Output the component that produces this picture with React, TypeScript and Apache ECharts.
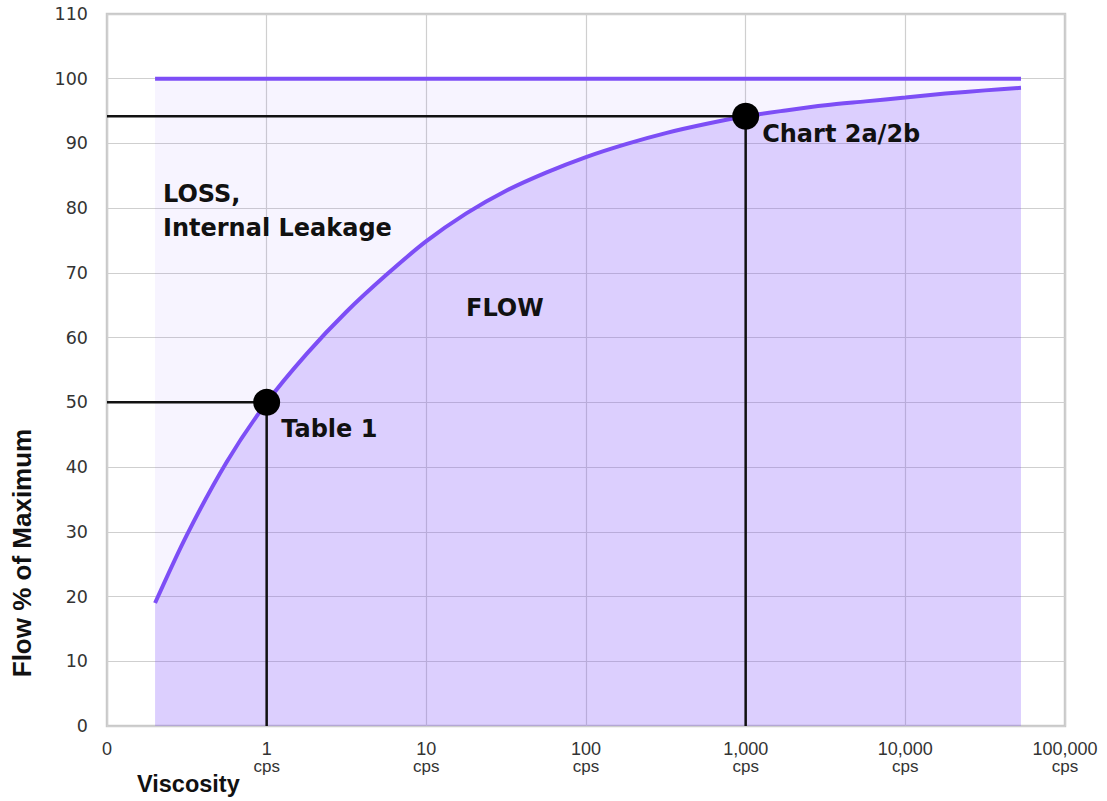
import React, { useEffect, useRef } from "react";
import * as echarts from "echarts";

// Viscosity (cps) vs flow % of maximum
const viscosity = [0.2, 0.316, 0.562, 1, 1.78, 3.16, 5.62, 10, 17.8, 31.6, 56.2, 100, 178, 316, 562, 1000, 1780, 3160, 5620, 10000, 17800, 31600, 53000];
const flowPct = [19.0, 29.5, 40.8, 50, 57.5, 64.0, 69.7, 74.9, 79.2, 82.7, 85.5, 87.9, 89.9, 91.6, 93.0, 94.2, 95.1, 95.9, 96.5, 97.1, 97.7, 98.2, 98.6];

// maximum (100 %) line spans the same viscosity range
const maxLineX = [0.2, 53000];
const maxLineY = [100, 100];

// reference points
const refNames = ["Table 1", "Chart 2a/2b"];
const refX = [1, 1000];
const refY = [50, 94.2];

// axes
const xMin = 0.1;
const xMax = 100000;
const yMin = 0;
const yMax = 110;
const yInterval = 10;

const PURPLE = "#7d4ef6";

export default function App() {
  const ref = useRef<HTMLDivElement>(null);

  useEffect(() => {
    if (!ref.current) return;
    const chart = echarts.init(ref.current, undefined, { renderer: "svg" });

    const flowData = viscosity.map((v, i) => [v, flowPct[i]]);
    const maxData = maxLineX.map((v, i) => [v, maxLineY[i]]);
    const labelPos = [
      [28, 40],
      [30, 31],
    ];

    const guideSeries = refX.map((x, i) => ({
      type: "line",
      name: "guide" + i,
      data: [
        [xMin, refY[i]],
        [x, refY[i]],
        [x, yMin],
      ],
      symbol: "none",
      lineStyle: { color: "#111", width: 2.5 },
      z: 5,
    }));

    const option: any = {
      animation: false,
      grid: {
        left: 107,
        right: 42,
        top: 14,
        bottom: 75,
        show: true,
        borderColor: "#c9c9c9",
        borderWidth: 2.5,
        backgroundColor: "transparent",
      },
      xAxis: {
        type: "log",
        logBase: 10,
        min: xMin,
        max: xMax,
        axisLine: { show: false },
        axisTick: { show: false },
        splitLine: { show: true, lineStyle: { color: "#cfcfcf", width: 1.2 } },
        axisLabel: {
          showMinLabel: true,
          showMaxLabel: true,
          margin: 13,
          formatter: (v: number) => {
            if (v < 0.5) return "{v|0}";
            return "{v|" + Math.round(v).toLocaleString("en-US") + "}\n{c|cps}";
          },
          rich: {
            v: { fontFamily: "Liberation Sans", fontSize: 18, color: "#333", lineHeight: 19 },
            c: { fontFamily: "Liberation Sans", fontSize: 17, color: "#333", lineHeight: 17 },
          },
        },
      },
      yAxis: {
        type: "value",
        min: yMin,
        max: yMax,
        interval: yInterval,
        axisLine: { show: false },
        axisTick: { show: false },
        splitLine: { show: true, lineStyle: { color: "#cfcfcf", width: 1.2 } },
        axisLabel: {
          margin: 19,
          fontFamily: "DejaVu Sans",
          fontSize: 17.5,
          color: "#333",
        },
      },
      series: [
        {
          type: "line",
          name: "max",
          data: maxData,
          symbol: "none",
          lineStyle: { color: PURPLE, width: 4 },
          areaStyle: { color: "rgba(130,80,250,0.09)", origin: "start" },
          z: 2,
        },
        {
          type: "line",
          name: "flow",
          data: flowData,
          smooth: 0.3,
          symbol: "none",
          lineStyle: { color: PURPLE, width: 4 },
          areaStyle: { color: "rgba(125,70,250,0.30)", origin: "start" },
          z: 3,
        },
        ...guideSeries,
        {
          type: "scatter",
          name: "refs",
          data: refX.map((x, i) => ({
            value: [x, refY[i]],
            name: refNames[i],
            label: { position: labelPos[i] },
          })),
          symbol: "circle",
          symbolSize: 27,
          itemStyle: { color: "#000", opacity: 1 },
          z: 6,
          label: {
            show: true,
            formatter: (p: any) => p.name,
            align: "left",
            verticalAlign: "middle",
            fontFamily: "DejaVu Sans",
            fontWeight: "bold",
            fontSize: 24,
            color: "#111",
          },
        },
      ],
      graphic: [
        {
          type: "text",
          left: 163,
          top: 177,
          style: {
            text: "LOSS,\nInternal Leakage",
            fontFamily: "DejaVu Sans",
            fontWeight: "bold",
            fontSize: 24,
            lineHeight: 34,
            fill: "#111",
          },
          z: 10,
        },
        {
          type: "text",
          left: 466,
          top: 296,
          style: {
            text: "FLOW",
            fontFamily: "DejaVu Sans",
            fontWeight: "bold",
            fontSize: 24,
            fill: "#111",
          },
          z: 10,
        },
        {
          type: "text",
          x: 22,
          y: 553,
          rotation: Math.PI / 2,
          style: {
            text: "Flow % of Maximum",
            fontFamily: "Liberation Sans",
            fontWeight: "bold",
            fontSize: 26,
            fill: "#111",
            align: "center",
            verticalAlign: "middle",
          },
          z: 10,
        },
        {
          type: "text",
          left: 137,
          top: 772,
          style: {
            text: "Viscosity",
            fontFamily: "Liberation Sans",
            fontWeight: "bold",
            fontSize: 23.5,
            fill: "#111",
          },
          z: 10,
        },
      ],
    };

    chart.setOption(option);
    return () => chart.dispose();
  }, []);

  return (
    <div
      ref={ref}
      style={{ position: "fixed", left: 0, top: 0, width: 1107, height: 801, background: "#fff" }}
    />
  );
}
